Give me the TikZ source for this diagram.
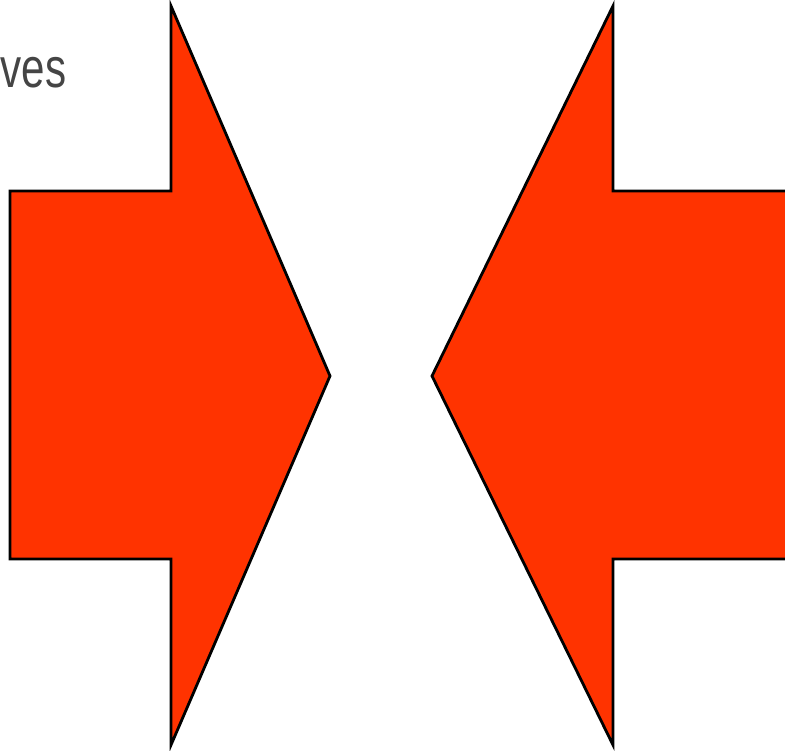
\documentclass[tikz,border=0pt]{standalone}
\usepackage{fontspec}
\setmainfont{Liberation Sans}
\usepackage{tkz-euclide}
\definecolor{ArrowClr}{rgb}{1,0.2,0}
\definecolor{TextClr}{rgb}{0.27,0.27,0.27}

\begin{document}
\begin{tikzpicture}[scale=1]
\useasboundingbox (0,0) rectangle (7.85,7.51);
\clip (0,0) rectangle (7.85,7.51);
\tkzSetUpLine[line width=0.8pt,color=black]

\tkzDefPoints{0.10/5.60/L1,1.71/5.60/L2,1.71/7.45/L3,3.30/3.75/L4,1.71/0.06/L5,1.71/1.92/L6,0.10/1.92/L7}
\tkzDefPoints{7.95/5.60/R1,6.13/5.60/R2,6.13/7.45/R3,4.32/3.75/R4,6.13/0.06/R5,6.13/1.92/R6,7.95/1.92/R7}


\tkzFillPolygon[fill=ArrowClr](L1,L2,L3,L4,L5,L6,L7)
\tkzDrawPolygon[line width=0.8pt,color=black,line join=miter](L1,L2,L3,L4,L5,L6,L7)

\tkzFillPolygon[fill=ArrowClr](R1,R2,R3,R4,R5,R6,R7)
\tkzDrawPolygon[line width=0.8pt,color=black,line join=miter](R1,R2,R3,R4,R5,R6,R7)


\node[anchor=base west,inner sep=0pt,text=TextClr,font=\fontsize{16}{18}\selectfont,xscale=0.75] (ves) at (0,6.63) {ves};

\end{tikzpicture}
\end{document}
